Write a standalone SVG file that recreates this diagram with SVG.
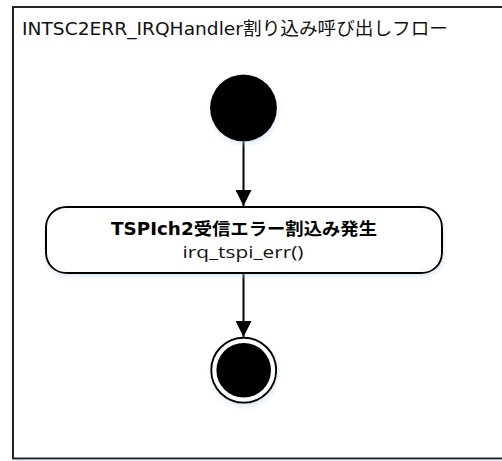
<svg xmlns="http://www.w3.org/2000/svg" width="502" height="461" viewBox="0 0 502 461">
  <style>
    .frame { fill: #ffffff; stroke: #222222; stroke-width: 2; }
    .title { font-family: "DejaVu Sans", "Noto Sans CJK JP", sans-serif; font-size: 18px; fill: #111111; }
    .node { fill: #ffffff; stroke: #000000; stroke-width: 2; }
    .bold { font-family: "DejaVu Sans", "Noto Sans CJK JP", sans-serif; font-size: 17px; font-weight: bold; fill: #000000; }
    .reg { font-family: "Open Sans", "DejaVu Sans", sans-serif; font-size: 17px; fill: #111111; }
    .edge { stroke: #000000; stroke-width: 2; fill: none; }
  </style>
  <defs>
    <filter id="glow" x="-20%" y="-20%" width="140%" height="140%">
      <feDropShadow dx="1" dy="3" stdDeviation="2.5" flood-color="#b9d3ee" flood-opacity="0.45"/>
    </filter>
    <marker id="arrow" viewBox="0 0 16 16" refX="16" refY="8" markerWidth="16" markerHeight="16" markerUnits="userSpaceOnUse" orient="auto">
      <path d="M0,0 L16,8 L0,16 Z" fill="#000000"/>
    </marker>
  </defs>

  <g id="frame">
    <rect class="frame" x="13" y="7" width="500" height="451.5" filter="url(#glow)"/>
    <text class="title" x="22" y="35" textLength="426" lengthAdjust="spacingAndGlyphs">INTSC2ERR_IRQHandler割り込み呼び出しフロー</text>
  </g>

  <g id="connectors">
    <line class="edge" x1="243.5" y1="141" x2="243.5" y2="206" marker-end="url(#arrow)"/>
    <line class="edge" x1="243.5" y1="273" x2="243.5" y2="337" marker-end="url(#arrow)"/>
  </g>

  <g id="start">
    <circle cx="243.5" cy="108" r="33.5" fill="#000000" filter="url(#glow)"/>
  </g>

  <g id="activity">
    <rect class="node" x="46" y="207" width="396" height="66" rx="20" ry="20" filter="url(#glow)"/>
    <text class="bold" x="244" y="235" text-anchor="middle" textLength="266" lengthAdjust="spacingAndGlyphs">TSPIch2受信エラー割込み発生</text>
    <text class="reg" x="243" y="258" text-anchor="middle" textLength="121" lengthAdjust="spacingAndGlyphs">irq_tspi_err()</text>
  </g>

  <g id="end">
    <circle cx="243.7" cy="370.3" r="32.5" fill="#ffffff" stroke="#000000" stroke-width="2" filter="url(#glow)"/>
    <circle cx="243.7" cy="370.3" r="27.3" fill="#000000"/>
  </g>
</svg>
